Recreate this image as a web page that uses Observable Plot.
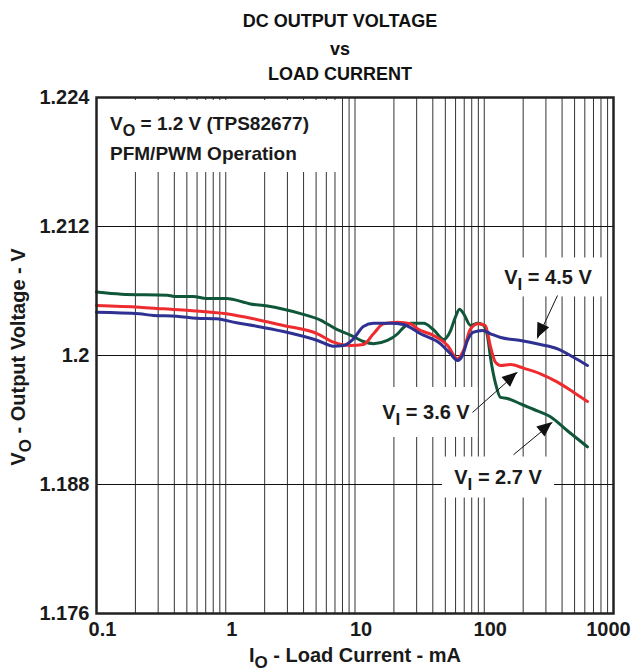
<!DOCTYPE html>
<html><head><meta charset="utf-8">
<script src="https://cdn.jsdelivr.net/npm/d3@7"></script>
<script src="https://cdn.jsdelivr.net/npm/@observablehq/plot@0.6"></script>
<style>
body{margin:0;background:#fff;font-family:"Liberation Sans",Arial,sans-serif;}
#title{width:632px;height:84px;position:relative;color:#111;}
#title div{position:absolute;left:0;width:680px;text-align:center;font-weight:bold;font-size:18px;line-height:20px;}
#chart{width:632px;}
</style></head><body>
<div id="title">
  <div style="top:11px">DC OUTPUT VOLTAGE</div>
  <div style="top:39px">vs</div>
  <div style="top:64px">LOAD CURRENT</div>
</div>
<div id="chart"></div>
<script>
// ---- data ----
const seriesNames = ["VI = 2.7 V", "VI = 3.6 V", "VI = 4.5 V"];
const seriesColors = ["#10573a", "#ee2b2f", "#2e3192"];

const current27 = [0.1, 0.156, 0.354, 0.40, 0.56, 0.71, 1.01, 1.55, 2.1, 2.8, 3.8, 5.4, 7.3, 9.2, 11.6, 13.9, 17.8, 21.3, 23.7, 26.9, 33.9, 40.5, 48.4, 54.8, 59.9, 64.4, 69.1, 78.3, 88.7, 98.7, 106, 111.8, 122.2, 133.6, 151, 160, 190.8, 240, 325, 440, 629];
const volt27    = [1.2059, 1.2057, 1.2056, 1.2055, 1.2055, 1.2053, 1.2053, 1.2048, 1.2046, 1.2043, 1.2039, 1.2033, 1.2024, 1.2019, 1.2013, 1.2011, 1.2014, 1.2020, 1.2026, 1.2030, 1.2030, 1.2024, 1.2015, 1.2023, 1.2036, 1.2043, 1.2039, 1.2028, 1.2030, 1.2028, 1.2018, 1.1998, 1.1974, 1.1961, 1.1960, 1.1959, 1.1955, 1.1950, 1.1943, 1.1930, 1.1915];

const current36 = [0.1, 0.215, 0.33, 0.524, 1.01, 1.73, 2.8, 5.13, 6.82, 9.23, 11.6, 13.9, 16.6, 21.3, 26.9, 30.4, 40.5, 52, 62.1, 69.1, 78.3, 90.3, 102, 112, 122, 134, 160, 201, 272, 369, 490, 629];
const volt36    = [1.20465, 1.20449, 1.20434, 1.20419, 1.20388, 1.20335, 1.20279, 1.20202, 1.20124, 1.20093, 1.20102, 1.20202, 1.20295, 1.20310, 1.20295, 1.20248, 1.20186, 1.20093, 1.19969, 1.20047, 1.20248, 1.20295, 1.20279, 1.20077, 1.19938, 1.19907, 1.19916, 1.19882, 1.19830, 1.19752, 1.19659, 1.19572];

const current45 = [0.1, 0.215, 0.276, 0.416, 0.594, 0.848, 1.21, 1.73, 2.8, 5.13, 6.82, 8.15, 9.73, 11.6, 13.9, 18.8, 23.7, 32.1, 45.9, 54.8, 62.1, 67.9, 74.2, 82.6, 96.9, 112, 134, 191, 272, 369, 490, 629];
const volt45    = [1.20403, 1.20388, 1.20372, 1.20366, 1.20347, 1.20341, 1.20304, 1.20273, 1.20223, 1.20140, 1.20087, 1.20093, 1.20155, 1.20270, 1.20300, 1.20300, 1.20288, 1.20202, 1.20109, 1.20016, 1.19954, 1.20000, 1.20140, 1.20217, 1.20233, 1.20202, 1.20167, 1.20140, 1.20102, 1.20062, 1.19984, 1.19907];

const xTicks = [0.1, 1, 10, 100, 1000];
const xTickLabels = ["0.1", "1", "10", "100", "1000"];
const yTicks = [1.176, 1.188, 1.2, 1.212, 1.224];
const yTickLabels = ["1.176", "1.188", "1.2", "1.212", "1.224"];
const yGrid = [1.188, 1.2, 1.212];
const xGrid = [0.2, 0.3, 0.4, 0.5, 0.6, 0.7, 0.8, 0.9,
               1, 2, 3, 4, 5, 6, 7, 8, 9,
               10, 20, 30, 40, 50, 60, 70, 80, 90,
               100, 200, 300, 400, 500, 600, 700, 800, 900];

// curve labels (data coords of label centre)
const labelMain = ["V", "V", "V"];
const labelSub = ["I", "I", "I"];
const labelRest = [" = 2.7 V", " = 3.6 V", " = 4.5 V"];
const labelX = [129, 35.7, 314];
const labelY = [1.18865, 1.19470, 1.20726];

// annotation arrows (from label to curve)
const arrowX1 = [168.4, 81.1, 368.7];
const arrowY1 = [1.19077, 1.19470, 1.20558];
const arrowX2 = [337.3, 180.9, 258];
const arrowY2 = [1.19377, 1.19842, 1.20158];

const infoLine1 = ["V", "O", " = 1.2 V (TPS82677)"];
const infoLine2 = "PFM/PWM Operation";
const xLabel = ["I", "O", " - Load Current - mA"];
const yLabel = ["V", "O", " - Output Voltage - V"];

// ---- build ----
const toRows = (xs, ys, s) => xs.map((x, i) => ({I: x, V: ys[i], s}));
const d27 = toRows(current27, volt27, seriesNames[0]);
const d36 = toRows(current36, volt36, seriesNames[1]);
const d45 = toRows(current45, volt45, seriesNames[2]);
const arrows = arrowX1.map((x, i) => ({x1: x, y1: arrowY1[i], x2: arrowX2[i], y2: arrowY2[i]}));
const labels = labelX.map((x, i) => ({x, y: labelY[i], main: labelMain[i], sub: labelSub[i], rest: labelRest[i]}));
const xTickRows = xTicks.map((x, i) => ({x, label: xTickLabels[i]}));

const FONT = "Liberation Sans, Arial, Helvetica, sans-serif";

function subText(parent, parts, size) {
  const t = parent.append("text")
    .attr("font-family", FONT).attr("font-weight", "bold")
    .attr("font-size", size).attr("fill", "#1a1a1a").attr("text-anchor", "start");
  t.append("tspan").text(parts[0]);
  t.append("tspan").attr("dy", size * 0.3).attr("font-size", size * 0.85).text(parts[1]);
  t.append("tspan").attr("dy", -size * 0.3).text(parts[2]);
  return t;
}

const TOP = 84;               // height of HTML title block
const W = 632, H = 671 - TOP;
const mL = 96, mR = 19, mT = 97 - TOP, mB = 58;

const chart = Plot.plot({
  width: W, height: H,
  marginLeft: mL, marginRight: mR, marginTop: mT, marginBottom: mB,
  style: {fontFamily: FONT, fontSize: "20px", fontWeight: "bold", color: "#1a1a1a", background: "#fff", overflow: "visible"},
  x: {type: "log", domain: [0.1, 1000], axis: null},
  y: {domain: [1.176, 1.224], ticks: yTicks, tickFormat: d => yTickLabels[yTicks.indexOf(d)], tickSize: 0, tickPadding: 7, label: null},
  marks: [
    Plot.ruleX(xGrid, {stroke: "#333", strokeWidth: 1}),
    Plot.ruleY(yGrid, {stroke: "#111", strokeWidth: 1}),
    // white boxes behind annotations
    (index, scales, values, dims) => {
      const g = d3.create("svg:g");
      g.append("rect").attr("x", mL + 1).attr("y", 100 - TOP).attr("width", 242).attr("height", 72).attr("fill", "#fff");
      const bw = [112, 103, 110], bh = [41, 50, 39];
      labels.forEach((l, i) => {
        const cx = scales.x(l.x), cy = scales.y(l.y);
        g.append("rect").attr("x", cx - bw[i] / 2).attr("y", cy - bh[i] / 2)
          .attr("width", bw[i]).attr("height", bh[i]).attr("fill", "#fff");
      });
      return g.node();
    },
    Plot.line(d27, {x: "I", y: "V", stroke: seriesColors[0], strokeWidth: 3, curve: "monotone-x"}),
    Plot.line(d36, {x: "I", y: "V", stroke: seriesColors[1], strokeWidth: 3, curve: "monotone-x"}),
    Plot.line(d45, {x: "I", y: "V", stroke: seriesColors[2], strokeWidth: 3, curve: "monotone-x"}),
    Plot.link(arrows, {x1: "x1", y1: "y1", x2: "x2", y2: "y2", stroke: "#111", strokeWidth: 1}),
    (index, scales) => {
      const g = d3.create("svg:g");
      arrows.forEach(a => {
        const x1 = scales.x(a.x1), y1 = scales.y(a.y1), x2 = scales.x(a.x2), y2 = scales.y(a.y2);
        const ang = Math.atan2(y2 - y1, x2 - x1);
        const L = 15, Wd = 6.5;
        const bx = x2 - L * Math.cos(ang), by = y2 - L * Math.sin(ang);
        const px = -Math.sin(ang) * Wd, py = Math.cos(ang) * Wd;
        g.append("path").attr("d", `M${x2},${y2}L${bx + px},${by + py}L${bx - px},${by - py}Z`).attr("fill", "#111");
      });
      return g.node();
    },
    Plot.frame({stroke: "#222", strokeWidth: 2.5}),
    // x tick labels
    Plot.text(xTickRows.slice(0, 4), {x: "x", text: "label", frameAnchor: "bottom", dy: 22, dx: 6, fontSize: 20, fontWeight: "bold", fill: "#1a1a1a"}),
    Plot.text(xTickRows.slice(4), {x: "x", text: "label", frameAnchor: "bottom", dy: 22, dx: -5, fontSize: 20, fontWeight: "bold", fill: "#1a1a1a"}),
    (index, scales) => {
      const g = d3.create("svg:g");
      // info text
      subText(g, infoLine1, 19).attr("x", 110).attr("y", 130 - TOP);
      g.append("text").attr("x", 110).attr("y", 160 - TOP).attr("text-anchor", "start")
        .attr("font-family", FONT).attr("font-weight", "bold").attr("font-size", 19).attr("fill", "#1a1a1a")
        .text(infoLine2);
      // curve labels
      labels.forEach(l => {
        subText(g, [l.main, l.sub, l.rest], 20)
          .attr("x", scales.x(l.x)).attr("y", scales.y(l.y) + 7).attr("text-anchor", "middle");
      });
      // axis titles
      subText(g, xLabel, 20).attr("x", 355).attr("y", 662 - TOP).attr("text-anchor", "middle");
      subText(g, yLabel, 20).attr("text-anchor", "middle")
        .attr("transform", `translate(25,${357 - TOP}) rotate(-90)`);
      return g.node();
    }
  ]
});
document.getElementById("chart").appendChild(chart);
</script>
</body></html>
